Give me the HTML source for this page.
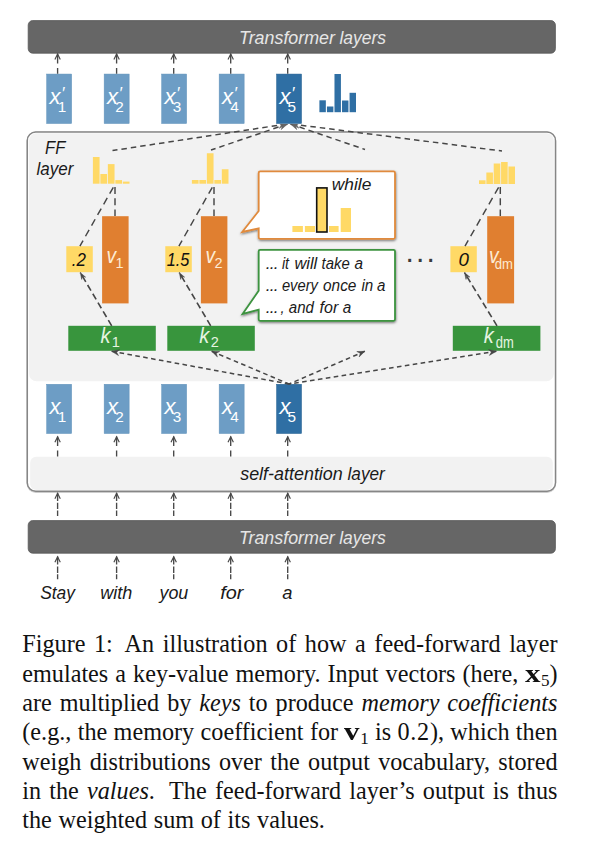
<!DOCTYPE html>
<html><head><meta charset="utf-8"><title>Figure 1</title>
<style>
html,body{margin:0;padding:0;background:#fff;}
body{width:600px;height:846px;position:relative;overflow:hidden;}
svg{position:absolute;left:0;top:0;}
.l{position:absolute;left:22.3px;width:535.2px;height:29px;line-height:29px;font-family:"Liberation Serif","Times New Roman",serif;font-size:24.2px;color:#111;white-space:nowrap;text-align:justify;text-align-last:justify;}
.l.last{text-align-last:left;word-spacing:0.6px;}
.l .sp{display:inline-block;height:1px;}
.l b{display:inline-block;transform:scaleX(1.28);transform-origin:0 50%;margin-right:3.6px;}
.l sub{font-size:17px;vertical-align:baseline;position:relative;top:4px;}
</style></head>
<body>
<svg width="600" height="846" viewBox="0 0 600 846">
<defs><clipPath id="cpt"><rect x="0" y="124" width="600" height="40"/></clipPath><filter id="sh2" x="-2%" y="-2%" width="104%" height="105%"><feDropShadow dx="0" dy="0.5" stdDeviation="0.3" flood-color="#000" flood-opacity="0.4"/></filter><filter id="sh" x="-10%" y="-10%" width="120%" height="130%"><feDropShadow dx="0.3" dy="1.2" stdDeviation="0.9" flood-color="#000" flood-opacity="0.5"/></filter></defs>
<rect x="28.20" y="20.60" width="527.20" height="32.60" fill="#666666" rx="4.5" stroke="#585858" stroke-width="0.8"/>
<text y="43.5" font-size="19.2" fill="#e6e6e6" font-family="Liberation Sans, Arial, sans-serif" font-style="italic"><tspan x="239.1" textLength="95.9" lengthAdjust="spacingAndGlyphs">Transformer</tspan> <tspan x="339.4" textLength="46.6" lengthAdjust="spacingAndGlyphs">layers</tspan></text>
<rect x="28.20" y="520.60" width="527.20" height="32.60" fill="#666666" rx="4.5" stroke="#585858" stroke-width="0.8"/>
<text y="543.7" font-size="19.2" fill="#e6e6e6" font-family="Liberation Sans, Arial, sans-serif" font-style="italic"><tspan x="238.9" textLength="95.9" lengthAdjust="spacingAndGlyphs">Transformer</tspan> <tspan x="339.2" textLength="46.6" lengthAdjust="spacingAndGlyphs">layers</tspan></text>
<rect x="27.3" y="132" width="528.2" height="359.2" rx="8.5" fill="#fff" stroke="#868686" stroke-width="1.45" filter="url(#sh2)"/>
<rect x="29.00" y="133.20" width="524.80" height="248.00" fill="#f2f2f2" rx="7.5"/>
<rect x="30.20" y="456.80" width="522.60" height="33.20" fill="#f2f2f2" rx="6"/>
<text y="479.9" font-size="19" fill="#1a1a1a" font-family="Liberation Sans, Arial, sans-serif" font-style="italic"><tspan x="240.2" textLength="102.6" lengthAdjust="spacingAndGlyphs">self-attention</tspan> <tspan x="347.5" textLength="37.3" lengthAdjust="spacingAndGlyphs">layer</tspan></text>
<rect x="46.65" y="74.05" width="25" height="49.5" fill="#6d9dc5" stroke="#6293bb" stroke-width="0.5"/>
<rect x="46.65" y="384.25" width="25" height="49.3" fill="#6d9dc5" stroke="#6293bb" stroke-width="0.5"/>
<text x="49.60" y="103.50" font-size="22.6" fill="#fff" font-family="Liberation Sans, Arial, sans-serif" textLength="11" lengthAdjust="spacingAndGlyphs" font-style="italic">x</text>
<text x="61.30" y="99.00" font-size="17" fill="#fff" font-family="Liberation Sans, Arial, sans-serif" font-style="italic">′</text>
<text x="57.70" y="112.00" font-size="15.3" fill="#fff" font-family="Liberation Sans, Arial, sans-serif" font-style="normal">1</text>
<text x="49.60" y="413.60" font-size="22.6" fill="#fff" font-family="Liberation Sans, Arial, sans-serif" textLength="11" lengthAdjust="spacingAndGlyphs" font-style="italic">x</text>
<text x="57.70" y="422.00" font-size="15.3" fill="#fff" font-family="Liberation Sans, Arial, sans-serif" font-style="normal">1</text>
<path d="M57.60 53.80 V63.50M57.60 68.00 V73.80" stroke="#484848" stroke-width="1.35" fill="none"/>
<path d="M54.90 59.50 L57.60 54.10 L60.30 59.50" stroke="#484848" stroke-width="1.15" fill="none"/>
<path d="M57.60 436.60 V446.00M57.60 450.50 V456.50" stroke="#484848" stroke-width="1.35" fill="none"/>
<path d="M54.90 442.30 L57.60 436.90 L60.30 442.30" stroke="#484848" stroke-width="1.15" fill="none"/>
<path d="M57.60 493.00 V501.00M57.60 502.70 V509.00M57.60 510.50 V516.00" stroke="#484848" stroke-width="1.35" fill="none"/>
<path d="M54.90 498.70 L57.60 493.30 L60.30 498.70" stroke="#484848" stroke-width="1.15" fill="none"/>
<path d="M57.60 556.60 V564.50M57.60 566.50 V573.00M57.60 574.30 V579.30" stroke="#484848" stroke-width="1.35" fill="none"/>
<path d="M54.90 562.30 L57.60 556.90 L60.30 562.30" stroke="#484848" stroke-width="1.15" fill="none"/>
<rect x="104.15" y="74.05" width="25" height="49.5" fill="#6d9dc5" stroke="#6293bb" stroke-width="0.5"/>
<rect x="104.15" y="384.25" width="25" height="49.3" fill="#6d9dc5" stroke="#6293bb" stroke-width="0.5"/>
<text x="107.10" y="103.50" font-size="22.6" fill="#fff" font-family="Liberation Sans, Arial, sans-serif" textLength="11" lengthAdjust="spacingAndGlyphs" font-style="italic">x</text>
<text x="118.80" y="99.00" font-size="17" fill="#fff" font-family="Liberation Sans, Arial, sans-serif" font-style="italic">′</text>
<text x="115.20" y="112.00" font-size="15.3" fill="#fff" font-family="Liberation Sans, Arial, sans-serif" font-style="normal">2</text>
<text x="107.10" y="413.60" font-size="22.6" fill="#fff" font-family="Liberation Sans, Arial, sans-serif" textLength="11" lengthAdjust="spacingAndGlyphs" font-style="italic">x</text>
<text x="115.20" y="422.00" font-size="15.3" fill="#fff" font-family="Liberation Sans, Arial, sans-serif" font-style="normal">2</text>
<path d="M116.60 53.80 V63.50M116.60 68.00 V73.80" stroke="#484848" stroke-width="1.35" fill="none"/>
<path d="M113.90 59.50 L116.60 54.10 L119.30 59.50" stroke="#484848" stroke-width="1.15" fill="none"/>
<path d="M116.60 436.60 V446.00M116.60 450.50 V456.50" stroke="#484848" stroke-width="1.35" fill="none"/>
<path d="M113.90 442.30 L116.60 436.90 L119.30 442.30" stroke="#484848" stroke-width="1.15" fill="none"/>
<path d="M116.60 493.00 V501.00M116.60 502.70 V509.00M116.60 510.50 V516.00" stroke="#484848" stroke-width="1.35" fill="none"/>
<path d="M113.90 498.70 L116.60 493.30 L119.30 498.70" stroke="#484848" stroke-width="1.15" fill="none"/>
<path d="M116.60 556.60 V564.50M116.60 566.50 V573.00M116.60 574.30 V579.30" stroke="#484848" stroke-width="1.35" fill="none"/>
<path d="M113.90 562.30 L116.60 556.90 L119.30 562.30" stroke="#484848" stroke-width="1.15" fill="none"/>
<rect x="161.65" y="74.05" width="25" height="49.5" fill="#6d9dc5" stroke="#6293bb" stroke-width="0.5"/>
<rect x="161.65" y="384.25" width="25" height="49.3" fill="#6d9dc5" stroke="#6293bb" stroke-width="0.5"/>
<text x="164.60" y="103.50" font-size="22.6" fill="#fff" font-family="Liberation Sans, Arial, sans-serif" textLength="11" lengthAdjust="spacingAndGlyphs" font-style="italic">x</text>
<text x="176.30" y="99.00" font-size="17" fill="#fff" font-family="Liberation Sans, Arial, sans-serif" font-style="italic">′</text>
<text x="172.70" y="112.00" font-size="15.3" fill="#fff" font-family="Liberation Sans, Arial, sans-serif" font-style="normal">3</text>
<text x="164.60" y="413.60" font-size="22.6" fill="#fff" font-family="Liberation Sans, Arial, sans-serif" textLength="11" lengthAdjust="spacingAndGlyphs" font-style="italic">x</text>
<text x="172.70" y="422.00" font-size="15.3" fill="#fff" font-family="Liberation Sans, Arial, sans-serif" font-style="normal">3</text>
<path d="M173.70 53.80 V63.50M173.70 68.00 V73.80" stroke="#484848" stroke-width="1.35" fill="none"/>
<path d="M171.00 59.50 L173.70 54.10 L176.40 59.50" stroke="#484848" stroke-width="1.15" fill="none"/>
<path d="M173.70 436.60 V446.00M173.70 450.50 V456.50" stroke="#484848" stroke-width="1.35" fill="none"/>
<path d="M171.00 442.30 L173.70 436.90 L176.40 442.30" stroke="#484848" stroke-width="1.15" fill="none"/>
<path d="M173.70 493.00 V501.00M173.70 502.70 V509.00M173.70 510.50 V516.00" stroke="#484848" stroke-width="1.35" fill="none"/>
<path d="M171.00 498.70 L173.70 493.30 L176.40 498.70" stroke="#484848" stroke-width="1.15" fill="none"/>
<path d="M173.70 556.60 V564.50M173.70 566.50 V573.00M173.70 574.30 V579.30" stroke="#484848" stroke-width="1.35" fill="none"/>
<path d="M171.00 562.30 L173.70 556.90 L176.40 562.30" stroke="#484848" stroke-width="1.15" fill="none"/>
<rect x="219.15" y="74.05" width="25" height="49.5" fill="#6d9dc5" stroke="#6293bb" stroke-width="0.5"/>
<rect x="219.15" y="384.25" width="25" height="49.3" fill="#6d9dc5" stroke="#6293bb" stroke-width="0.5"/>
<text x="222.10" y="103.50" font-size="22.6" fill="#fff" font-family="Liberation Sans, Arial, sans-serif" textLength="11" lengthAdjust="spacingAndGlyphs" font-style="italic">x</text>
<text x="233.80" y="99.00" font-size="17" fill="#fff" font-family="Liberation Sans, Arial, sans-serif" font-style="italic">′</text>
<text x="230.20" y="112.00" font-size="15.3" fill="#fff" font-family="Liberation Sans, Arial, sans-serif" font-style="normal">4</text>
<text x="222.10" y="413.60" font-size="22.6" fill="#fff" font-family="Liberation Sans, Arial, sans-serif" textLength="11" lengthAdjust="spacingAndGlyphs" font-style="italic">x</text>
<text x="230.20" y="422.00" font-size="15.3" fill="#fff" font-family="Liberation Sans, Arial, sans-serif" font-style="normal">4</text>
<path d="M230.70 53.80 V63.50M230.70 68.00 V73.80" stroke="#484848" stroke-width="1.35" fill="none"/>
<path d="M228.00 59.50 L230.70 54.10 L233.40 59.50" stroke="#484848" stroke-width="1.15" fill="none"/>
<path d="M230.70 436.60 V446.00M230.70 450.50 V456.50" stroke="#484848" stroke-width="1.35" fill="none"/>
<path d="M228.00 442.30 L230.70 436.90 L233.40 442.30" stroke="#484848" stroke-width="1.15" fill="none"/>
<path d="M230.70 493.00 V501.00M230.70 502.70 V509.00M230.70 510.50 V516.00" stroke="#484848" stroke-width="1.35" fill="none"/>
<path d="M228.00 498.70 L230.70 493.30 L233.40 498.70" stroke="#484848" stroke-width="1.15" fill="none"/>
<path d="M230.70 556.60 V564.50M230.70 566.50 V573.00M230.70 574.30 V579.30" stroke="#484848" stroke-width="1.35" fill="none"/>
<path d="M228.00 562.30 L230.70 556.90 L233.40 562.30" stroke="#484848" stroke-width="1.15" fill="none"/>
<rect x="276.55" y="74.05" width="25" height="49.5" fill="#2f6fa4" stroke="#25608f" stroke-width="0.5"/>
<rect x="276.55" y="384.25" width="25" height="49.3" fill="#2f6fa4" stroke="#25608f" stroke-width="0.5"/>
<text x="279.50" y="103.50" font-size="22.6" fill="#fff" font-family="Liberation Sans, Arial, sans-serif" textLength="11" lengthAdjust="spacingAndGlyphs" font-style="italic">x</text>
<text x="291.20" y="99.00" font-size="17" fill="#fff" font-family="Liberation Sans, Arial, sans-serif" font-style="italic">′</text>
<text x="287.60" y="112.00" font-size="15.3" fill="#fff" font-family="Liberation Sans, Arial, sans-serif" font-style="normal">5</text>
<text x="279.50" y="413.60" font-size="22.6" fill="#fff" font-family="Liberation Sans, Arial, sans-serif" textLength="11" lengthAdjust="spacingAndGlyphs" font-style="italic">x</text>
<text x="287.60" y="422.00" font-size="15.3" fill="#fff" font-family="Liberation Sans, Arial, sans-serif" font-style="normal">5</text>
<path d="M287.70 53.80 V63.50M287.70 68.00 V73.80" stroke="#484848" stroke-width="1.35" fill="none"/>
<path d="M285.00 59.50 L287.70 54.10 L290.40 59.50" stroke="#484848" stroke-width="1.15" fill="none"/>
<path d="M287.70 436.60 V446.00M287.70 450.50 V456.50" stroke="#484848" stroke-width="1.35" fill="none"/>
<path d="M285.00 442.30 L287.70 436.90 L290.40 442.30" stroke="#484848" stroke-width="1.15" fill="none"/>
<path d="M287.70 493.00 V501.00M287.70 502.70 V509.00M287.70 510.50 V516.00" stroke="#484848" stroke-width="1.35" fill="none"/>
<path d="M285.00 498.70 L287.70 493.30 L290.40 498.70" stroke="#484848" stroke-width="1.15" fill="none"/>
<path d="M287.70 556.60 V564.50M287.70 566.50 V573.00M287.70 574.30 V579.30" stroke="#484848" stroke-width="1.35" fill="none"/>
<path d="M285.00 562.30 L287.70 556.90 L290.40 562.30" stroke="#484848" stroke-width="1.15" fill="none"/>
<text y="599" font-size="18.6" fill="#1a1a1a" font-family="Liberation Sans, Arial, sans-serif" font-style="italic"><tspan x="40.2" textLength="34.8" lengthAdjust="spacingAndGlyphs">Stay</tspan> <tspan x="100.2" textLength="32.1" lengthAdjust="spacingAndGlyphs">with</tspan> <tspan x="159.5" textLength="28.8" lengthAdjust="spacingAndGlyphs">you</tspan> <tspan x="220.2" textLength="23.2" lengthAdjust="spacingAndGlyphs">for</tspan> <tspan x="282.2" textLength="10.2" lengthAdjust="spacingAndGlyphs">a</tspan></text>
<rect x="319.40" y="100.30" width="6.44" height="11.90" fill="#2f6fa4"/>
<rect x="326.94" y="106.50" width="6.44" height="5.70" fill="#2f6fa4"/>
<rect x="334.48" y="74.00" width="6.44" height="38.20" fill="#2f6fa4"/>
<rect x="342.02" y="100.50" width="6.44" height="11.70" fill="#2f6fa4"/>
<rect x="349.56" y="92.80" width="6.44" height="19.40" fill="#2f6fa4"/>
<text x="45.00" y="153.80" font-size="18.2" fill="#1a1a1a" font-family="Liberation Sans, Arial, sans-serif" textLength="20.3" lengthAdjust="spacingAndGlyphs" font-style="italic">FF</text>
<text x="36.50" y="175.40" font-size="19" fill="#1a1a1a" font-family="Liberation Sans, Arial, sans-serif" textLength="36.8" lengthAdjust="spacingAndGlyphs" font-style="italic">layer</text>
<rect x="92.90" y="157.00" width="6.68" height="26.70" fill="#ffd966"/>
<rect x="100.38" y="174.00" width="6.68" height="9.70" fill="#ffd966"/>
<rect x="107.86" y="164.10" width="6.68" height="19.60" fill="#ffd966"/>
<rect x="115.34" y="180.10" width="6.68" height="3.60" fill="#ffd966"/>
<rect x="122.82" y="181.60" width="6.68" height="2.10" fill="#ffd966"/>
<rect x="102.10" y="216.20" width="26.50" height="87.20" fill="#e07f30"/>
<rect x="66.30" y="246.20" width="26.50" height="26.00" fill="#ffd966"/>
<rect x="68.30" y="325.80" width="87.50" height="25.00" fill="#38953d"/>
<line x1="115.00" y1="187.00" x2="115.00" y2="215.90" stroke="#464646" stroke-width="1.45" stroke-dasharray="7 4.3"/>
<line x1="113.30" y1="187.30" x2="79.90" y2="246.10" stroke="#464646" stroke-width="1.45" stroke-dasharray="7.3 4.95"/>
<line x1="111.70" y1="325.80" x2="80.30" y2="272.60" stroke="#464646" stroke-width="1.6" stroke-dasharray="6.6 3.6"/>
<path d="M80.30 272.60 L85.62 277.15 L82.51 276.34 L81.71 279.46 Z" fill="#464646" stroke="#464646" stroke-width="0.5" stroke-linejoin="miter"/>
<rect x="191.90" y="180.00" width="6.68" height="3.70" fill="#ffd966"/>
<rect x="199.38" y="180.00" width="6.68" height="3.70" fill="#ffd966"/>
<rect x="206.86" y="153.25" width="6.68" height="30.45" fill="#ffd966"/>
<rect x="214.34" y="180.00" width="6.68" height="3.70" fill="#ffd966"/>
<rect x="221.82" y="169.25" width="6.68" height="14.45" fill="#ffd966"/>
<rect x="200.90" y="216.20" width="26.50" height="87.20" fill="#e07f30"/>
<rect x="165.30" y="246.20" width="26.50" height="26.00" fill="#ffd966"/>
<rect x="167.30" y="325.80" width="87.50" height="25.00" fill="#38953d"/>
<line x1="214.00" y1="187.00" x2="214.00" y2="215.90" stroke="#464646" stroke-width="1.45" stroke-dasharray="7 4.3"/>
<line x1="212.30" y1="187.30" x2="178.90" y2="246.10" stroke="#464646" stroke-width="1.45" stroke-dasharray="7.3 4.95"/>
<line x1="210.70" y1="325.80" x2="179.30" y2="272.60" stroke="#464646" stroke-width="1.6" stroke-dasharray="6.6 3.6"/>
<path d="M179.30 272.60 L184.62 277.15 L181.51 276.34 L180.71 279.46 Z" fill="#464646" stroke="#464646" stroke-width="0.5" stroke-linejoin="miter"/>
<rect x="479.00" y="180.30" width="6.56" height="3.70" fill="#ffd966"/>
<rect x="486.36" y="172.50" width="6.56" height="11.50" fill="#ffd966"/>
<rect x="493.72" y="163.50" width="6.56" height="20.50" fill="#ffd966"/>
<rect x="501.08" y="162.00" width="6.56" height="22.00" fill="#ffd966"/>
<rect x="508.44" y="166.50" width="6.56" height="17.50" fill="#ffd966"/>
<rect x="487.20" y="216.20" width="26.90" height="87.20" fill="#e07f30"/>
<rect x="450.40" y="246.20" width="26.40" height="26.00" fill="#ffd966"/>
<rect x="452.80" y="325.80" width="87.60" height="25.00" fill="#38953d"/>
<line x1="500.30" y1="187.00" x2="500.30" y2="216.00" stroke="#464646" stroke-width="1.45" stroke-dasharray="7 4.3"/>
<line x1="498.60" y1="187.30" x2="465.00" y2="246.10" stroke="#464646" stroke-width="1.45" stroke-dasharray="7.3 4.95"/>
<line x1="497.00" y1="325.80" x2="464.50" y2="272.60" stroke="#464646" stroke-width="1.6" stroke-dasharray="6.6 3.6"/>
<path d="M464.50 272.60 L469.89 277.07 L466.76 276.30 L466.02 279.43 Z" fill="#464646" stroke="#464646" stroke-width="0.5" stroke-linejoin="miter"/>
<text x="71.70" y="266.20" font-size="17.5" fill="#111" font-family="Liberation Sans, Arial, sans-serif" textLength="14.2" lengthAdjust="spacingAndGlyphs" font-style="italic">.2</text>
<text x="166.70" y="266.20" font-size="17.5" fill="#111" font-family="Liberation Sans, Arial, sans-serif" textLength="22.6" lengthAdjust="spacingAndGlyphs" font-style="italic">1.5</text>
<text x="458.40" y="266.20" font-size="17.5" fill="#111" font-family="Liberation Sans, Arial, sans-serif" textLength="10.4" lengthAdjust="spacingAndGlyphs" font-style="italic">0</text>
<text x="106.60" y="262.60" font-size="21.5" fill="#fdebd3" font-family="Liberation Sans, Arial, sans-serif" textLength="9.6" lengthAdjust="spacingAndGlyphs" font-style="italic">v</text>
<text x="115.60" y="268.30" font-size="14.5" fill="#fdebd3" font-family="Liberation Sans, Arial, sans-serif" font-style="normal">1</text>
<text x="100.40" y="342.60" font-size="22" fill="#e6f4e1" font-family="Liberation Sans, Arial, sans-serif" textLength="10" lengthAdjust="spacingAndGlyphs" font-style="italic">k</text>
<text x="111.80" y="346.70" font-size="14.5" fill="#e6f4e1" font-family="Liberation Sans, Arial, sans-serif" font-style="normal">1</text>
<text x="205.50" y="262.60" font-size="21.5" fill="#fdebd3" font-family="Liberation Sans, Arial, sans-serif" textLength="9.6" lengthAdjust="spacingAndGlyphs" font-style="italic">v</text>
<text x="214.50" y="268.30" font-size="14.5" fill="#fdebd3" font-family="Liberation Sans, Arial, sans-serif" font-style="normal">2</text>
<text x="199.30" y="342.60" font-size="22" fill="#e6f4e1" font-family="Liberation Sans, Arial, sans-serif" textLength="10" lengthAdjust="spacingAndGlyphs" font-style="italic">k</text>
<text x="210.70" y="346.70" font-size="14.5" fill="#e6f4e1" font-family="Liberation Sans, Arial, sans-serif" font-style="normal">2</text>
<text x="489.00" y="263.20" font-size="21.5" fill="#fdebd3" font-family="Liberation Sans, Arial, sans-serif" textLength="9.6" lengthAdjust="spacingAndGlyphs" font-style="italic">v</text>
<text x="494.80" y="269.00" font-size="14.5" fill="#fdebd3" font-family="Liberation Sans, Arial, sans-serif" textLength="18.2" lengthAdjust="spacingAndGlyphs" font-style="normal">dm</text>
<text x="483.70" y="342.60" font-size="22" fill="#e6f4e1" font-family="Liberation Sans, Arial, sans-serif" textLength="10" lengthAdjust="spacingAndGlyphs" font-style="italic">k</text>
<text x="495.80" y="348.00" font-size="16.5" fill="#e6f4e1" font-family="Liberation Sans, Arial, sans-serif" textLength="18" lengthAdjust="spacingAndGlyphs" font-style="normal">dm</text>
<text x="405.6" y="262.1" font-size="30" letter-spacing="2.17" fill="#3a3a3a" font-family="Liberation Sans, Arial, sans-serif">...</text>
<g clip-path="url(#cpt)">
<line x1="286.50" y1="124.00" x2="112.50" y2="150.60" stroke="#464646" stroke-width="1.5" stroke-dasharray="5.5 4"/>
<path d="M286.50 124.00 L279.26 128.46 L281.29 124.80 L278.26 121.91 Z" fill="#666" stroke="#666" stroke-width="0.5" stroke-linejoin="miter"/>
<line x1="287.50" y1="124.00" x2="211.00" y2="150.00" stroke="#464646" stroke-width="1.5" stroke-dasharray="5.5 4"/>
<path d="M287.50 124.00 L281.15 129.65 L282.51 125.70 L279.02 123.39 Z" fill="#666" stroke="#666" stroke-width="0.5" stroke-linejoin="miter"/>
<line x1="290.50" y1="124.00" x2="365.00" y2="149.50" stroke="#464646" stroke-width="1.5" stroke-dasharray="5.5 4"/>
<path d="M290.50 124.00 L298.98 123.40 L295.49 125.71 L296.84 129.67 Z" fill="#666" stroke="#666" stroke-width="0.5" stroke-linejoin="miter"/>
<line x1="291.50" y1="124.00" x2="502.00" y2="151.00" stroke="#464646" stroke-width="1.5" stroke-dasharray="5.5 4"/>
<path d="M291.50 124.00 L299.69 121.71 L296.73 124.67 L298.84 128.28 Z" fill="#666" stroke="#666" stroke-width="0.5" stroke-linejoin="miter"/>
</g>
<line x1="111.70" y1="351.30" x2="289.00" y2="384.00" stroke="#464646" stroke-width="1.5" stroke-dasharray="4.6 3.4"/>
<path d="M111.70 351.30 L119.54 349.73 L116.58 352.20 L118.47 355.57 Z" fill="#464646" stroke="#464646" stroke-width="0.5" stroke-linejoin="miter"/>
<line x1="211.70" y1="351.30" x2="289.00" y2="384.00" stroke="#464646" stroke-width="1.5" stroke-dasharray="4.6 3.4"/>
<path d="M211.70 351.30 L219.70 351.46 L216.27 353.23 L217.39 356.93 Z" fill="#464646" stroke="#464646" stroke-width="0.5" stroke-linejoin="miter"/>
<line x1="364.80" y1="351.30" x2="289.00" y2="384.00" stroke="#464646" stroke-width="1.5" stroke-dasharray="4.6 3.4"/>
<path d="M364.80 351.30 L359.15 356.97 L360.25 353.26 L356.80 351.52 Z" fill="#464646" stroke="#464646" stroke-width="0.5" stroke-linejoin="miter"/>
<line x1="496.30" y1="351.30" x2="289.00" y2="384.00" stroke="#464646" stroke-width="1.5" stroke-dasharray="4.6 3.4"/>
<path d="M496.30 351.30 L489.42 355.39 L491.40 352.07 L488.50 349.53 Z" fill="#464646" stroke="#464646" stroke-width="0.5" stroke-linejoin="miter"/>
<g filter="url(#sh)">
<path d="M260.2 171.4 H393.5 Q395 171.4 395 172.9 V237.3 Q395 238.8 393.5 238.8 H260.2 Q258.7 238.8 258.7 237.3 V228.3 L242.2 232 L258.7 211 V172.9 Q258.7 171.4 260.2 171.4 Z" fill="#fff" stroke="#e08a3c" stroke-width="1.8" stroke-linejoin="miter"/>
<path d="M260.2 249.8 H393.5 Q395 249.8 395 251.3 V319.3 Q395 320.8 393.5 320.8 H260.2 Q258.7 320.8 258.7 319.3 V309.6 L242.6 313.9 L258.7 290.7 V251.3 Q258.7 249.8 260.2 249.8 Z" fill="#fff" stroke="#3c933f" stroke-width="1.8" stroke-linejoin="miter"/>
</g>
<rect x="292.40" y="226.00" width="10.50" height="6.00" fill="#ffd966"/>
<rect x="304.90" y="226.00" width="10.10" height="6.00" fill="#ffd966"/>
<rect x="316.70" y="187.90" width="10.30" height="44.10" fill="#ffd966" stroke="#111" stroke-width="1.6"/>
<rect x="329.00" y="226.00" width="9.60" height="6.00" fill="#ffd966"/>
<rect x="340.70" y="208.00" width="10.30" height="24.00" fill="#ffd966"/>
<text x="331.80" y="190.20" font-size="17.3" fill="#1a1a1a" font-family="Liberation Sans, Arial, sans-serif" textLength="39.6" lengthAdjust="spacingAndGlyphs" font-style="italic">while</text>
<text y="268.6" font-size="17.4" fill="#1a1a1a" font-family="Liberation Sans, Arial, sans-serif" font-style="italic"><tspan x="265.8" textLength="12.9" lengthAdjust="spacing">...</tspan> <tspan x="281.9" textLength="7.1" lengthAdjust="spacingAndGlyphs">it</tspan> <tspan x="294.4" textLength="22.8" lengthAdjust="spacingAndGlyphs">will</tspan> <tspan x="321.6" textLength="28.3" lengthAdjust="spacingAndGlyphs">take</tspan> <tspan x="354.5" textLength="8.5" lengthAdjust="spacingAndGlyphs">a</tspan></text>
<text y="291.0" font-size="17.4" fill="#1a1a1a" font-family="Liberation Sans, Arial, sans-serif" font-style="italic"><tspan x="265.8" textLength="12.9" lengthAdjust="spacing">...</tspan> <tspan x="281.9" textLength="36.0" lengthAdjust="spacingAndGlyphs">every</tspan> <tspan x="323.0" textLength="33.4" lengthAdjust="spacingAndGlyphs">once</tspan> <tspan x="361.4" textLength="11.8" lengthAdjust="spacingAndGlyphs">in</tspan> <tspan x="377.0" textLength="8.4" lengthAdjust="spacingAndGlyphs">a</tspan></text>
<text y="312.7" font-size="17.4" fill="#1a1a1a" font-family="Liberation Sans, Arial, sans-serif" font-style="italic"><tspan x="265.8" textLength="12.9" lengthAdjust="spacing">...</tspan> <tspan x="280.4" textLength="4.0" lengthAdjust="spacingAndGlyphs">,</tspan> <tspan x="288.8" textLength="25.1" lengthAdjust="spacingAndGlyphs">and</tspan> <tspan x="319.6" textLength="18.7" lengthAdjust="spacingAndGlyphs">for</tspan> <tspan x="342.7" textLength="8.5" lengthAdjust="spacingAndGlyphs">a</tspan></text>
</svg>
<div class="l" style="top:629.30px">Figure 1:<span class="sp" style="width:4.5px"></span> An illustration of how a feed-forward layer</div>
<div class="l" style="top:658.63px">emulates a key-value memory. Input vectors (here, <b>x</b><sub>5</sub>)</div>
<div class="l" style="top:687.96px">are multiplied by <i>keys</i> to produce <i>memory coefficients</i></div>
<div class="l" style="top:717.29px">(e.g., the memory coefficient for <b>v</b><sub>1</sub> is <span style="letter-spacing:0.7px">0.2</span>), which then</div>
<div class="l" style="top:746.62px">weigh distributions over the output vocabulary, stored</div>
<div class="l" style="top:775.95px">in the <i>values</i>.<span class="sp" style="width:6.5px"></span> The feed-forward layer’s output is thus</div>
<div class="l last" style="top:805.28px">the weighted sum of its values.</div>

</body></html>
